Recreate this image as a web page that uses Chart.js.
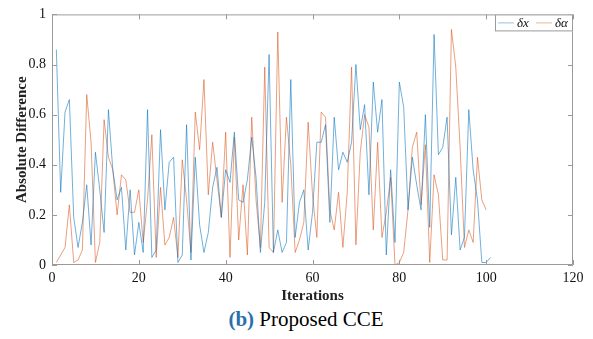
<!DOCTYPE html>
<html>
<head>
<meta charset="utf-8">
<script src="https://cdn.jsdelivr.net/npm/chart.js@4"></script>
<style>
  body { margin: 0; background: #fff; }
  #wrap { position: relative; width: 593px; height: 339px; }
  #caption {
    position: absolute; left: 0; top: 307px; width: 612px;
    text-align: center; font-family: "Liberation Serif", serif; font-size: 21px; color: #000;
  }
  #caption b { color: #2a6ead; }
</style>
</head>
<body>
<div id="wrap">
  <canvas id="chart" width="593" height="305"></canvas>
  <div id="caption"><b>(b)</b> Proposed CCE</div>
</div>
<script>
// values
const deltaX = [0.86, 0.29, 0.61, 0.66, 0.19, 0.07, 0.17, 0.32, 0.08, 0.45,
  0.30, 0.13, 0.62, 0.38, 0.26, 0.31, 0.06, 0.30, 0.04, 0.17,
  0.05, 0.62, 0.03, 0.06, 0.54, 0.22, 0.41, 0.43, 0.01, 0.04,
  0.56, 0.02, 0.43, 0.16, 0.05, 0.13, 0.31, 0.39, 0.19, 0.38,
  0.33, 0.53, 0.26, 0.25, 0.34, 0.51, 0.35, 0.05, 0.25, 0.84,
  0.05, 0.14, 0.05, 0.09, 0.74, 0.11, 0.25, 0.30, 0.06, 0.21,
  0.49, 0.49, 0.56, 0.17, 0.59, 0.38, 0.45, 0.41, 0.49, 0.80,
  0.54, 0.64, 0.28, 0.73, 0.53, 0.66, 0.04, 0.38, 0.09, 0.73,
  0.63, 0.22, 0.43, 0.32, 0.22, 0.60, 0.15, 0.92, 0.44, 0.47,
  0.59, 0.12, 0.35, 0.06, 0.11, 0.62, 0.38, 0.26, 0.01, 0.01,
  0.03];
const deltaAlpha = [0.01, 0.04, 0.07, 0.24, 0.01, 0.02, 0.06, 0.68, 0.49, 0.01,
  0.09, 0.58, 0.43, 0.38, 0.20, 0.36, 0.34, 0.21, 0.21, 0.30,
  0.09, 0.26, 0.52, 0.03, 0.31, 0.08, 0.11, 0.19, 0.03, 0.42,
  0.26, 0.05, 0.61, 0.46, 0.74, 0.28, 0.49, 0.34, 0.19, 0.53,
  0.03, 0.51, 0.10, 0.32, 0.04, 0.59, 0.26, 0.07, 0.79, 0.07,
  0.05, 0.93, 0.25, 0.59, 0.40, 0.05, 0.10, 0.17, 0.57, 0.28,
  0.11, 0.61, 0.59, 0.22, 0.14, 0.29, 0.07, 0.29, 0.79, 0.08,
  0.45, 0.60, 0.55, 0.14, 0.49, 0.11, 0.21, 0.35, 0.00, 0.01,
  0.05, 0.22, 0.47, 0.53, 0.24, 0.48, 0.01, 0.36, 0.28, 0.02,
  0.02, 0.94, 0.79, 0.47, 0.07, 0.14, 0.09, 0.43, 0.26, 0.22];
const xTicks = [0, 20, 40, 60, 80, 100, 120];
const yTicks = ['0', '0.2', '0.4', '0.6', '0.8', '1'];
const seriesNames = ['\u03b4x', '\u03b4\u03b1'];
const seriesColors = ['rgba(0,114,189,0.7)', 'rgba(217,83,25,0.7)'];

const FONT = '"Liberation Serif", "Times New Roman", serif';
const AXIS = '#9a9a9a';

// iteration k holds the k-th entry
const toPoints = arr => arr.map((v, k) => ({x: k + 1, y: v}));

// MATLAB style box with inward ticks on all sides, legend inside the plot
const boxPlugin = {
    id: 'boxPlugin',
    afterDraw(chart) {
        const ctx = chart.ctx;
        const a = chart.chartArea;
        const xs = chart.scales.x, ys = chart.scales.y;
        ctx.save();
        ctx.strokeStyle = AXIS;
        ctx.lineWidth = 1;
        ctx.beginPath();
        ctx.rect(a.left + 0.5, a.top + 0.5, a.right - a.left - 1, a.bottom - a.top - 1);
        xTicks.forEach(t => {
            const px = Math.round(xs.getPixelForValue(t)) + 0.5;
            ctx.moveTo(px, a.bottom); ctx.lineTo(px, a.bottom - 5);
            ctx.moveTo(px, a.top); ctx.lineTo(px, a.top + 5);
        });
        yTicks.forEach(t => {
            const py = Math.round(ys.getPixelForValue(+t)) + 0.5;
            ctx.moveTo(a.left, py); ctx.lineTo(a.left + 5, py);
            ctx.moveTo(a.right, py); ctx.lineTo(a.right - 5, py);
        });
        ctx.stroke();

        // legend
        const lw = 78, lh = 17;
        const lx = a.right - lw, ly = a.top;
        ctx.fillStyle = '#fff';
        ctx.fillRect(lx, ly, lw, lh);
        ctx.strokeStyle = AXIS;
        ctx.strokeRect(lx + 0.5, ly + 0.5, lw - 1, lh - 1);
        ctx.font = 'italic 13px ' + FONT;
        ctx.textBaseline = 'middle';
        let cx = lx + 3;
        seriesNames.forEach((name, i) => {
            ctx.strokeStyle = seriesColors[i];
            ctx.globalAlpha = 0.6;
            ctx.beginPath();
            ctx.moveTo(cx, ly + lh / 2); ctx.lineTo(cx + 16, ly + lh / 2);
            ctx.stroke();
            ctx.globalAlpha = 1;
            ctx.fillStyle = '#111';
            ctx.fillText(name, cx + 19, ly + lh / 2 + 1);
            cx += 38;
        });
        ctx.restore();
    }
};

const ctx = document.getElementById('chart').getContext('2d');
new Chart(ctx, {
    type: 'line',
    data: {
        datasets: [deltaX, deltaAlpha].map((arr, i) => ({
            label: seriesNames[i],
            data: toPoints(arr),
            borderColor: seriesColors[i],
            borderWidth: 0.8,
            pointRadius: 0,
            tension: 0,
            fill: false
        }))
    },
    options: {
        responsive: false,
        animation: false,
        layout: {padding: {left: 0, right: 20, top: 11, bottom: 0}},
        plugins: {legend: {display: false}, tooltip: {enabled: false}},
        scales: {
            x: {
                type: 'linear', min: 0, max: 120,
                afterFit: s => { s.height = 40; },
                afterBuildTicks: s => { s.ticks = xTicks.map(v => ({value: v})); },
                grid: {display: false, drawTicks: false},
                border: {display: false},
                ticks: {padding: 5, color: '#111', font: {family: FONT, size: 14},
                    callback: v => String(v), maxRotation: 0},
                title: {display: true, text: 'Iterations', color: '#222',
                    font: {family: FONT, size: 15, weight: 'bold'}, padding: {top: 0, bottom: 0}}
            },
            y: {
                min: 0, max: 1,
                afterFit: s => { s.width = 52; },
                afterBuildTicks: s => { s.ticks = yTicks.map(v => ({value: +v})); },
                grid: {display: false, drawTicks: false},
                border: {display: false},
                ticks: {padding: 6, color: '#111', font: {family: FONT, size: 14},
                    callback: (v, i) => yTicks[i]},
                title: {display: true, text: 'Absolute Difference', color: '#222',
                    font: {family: FONT, size: 15, weight: 'bold'}, padding: {top: 13, bottom: 0}}
            }
        }
    },
    plugins: [boxPlugin]
});
</script>
</body>
</html>
